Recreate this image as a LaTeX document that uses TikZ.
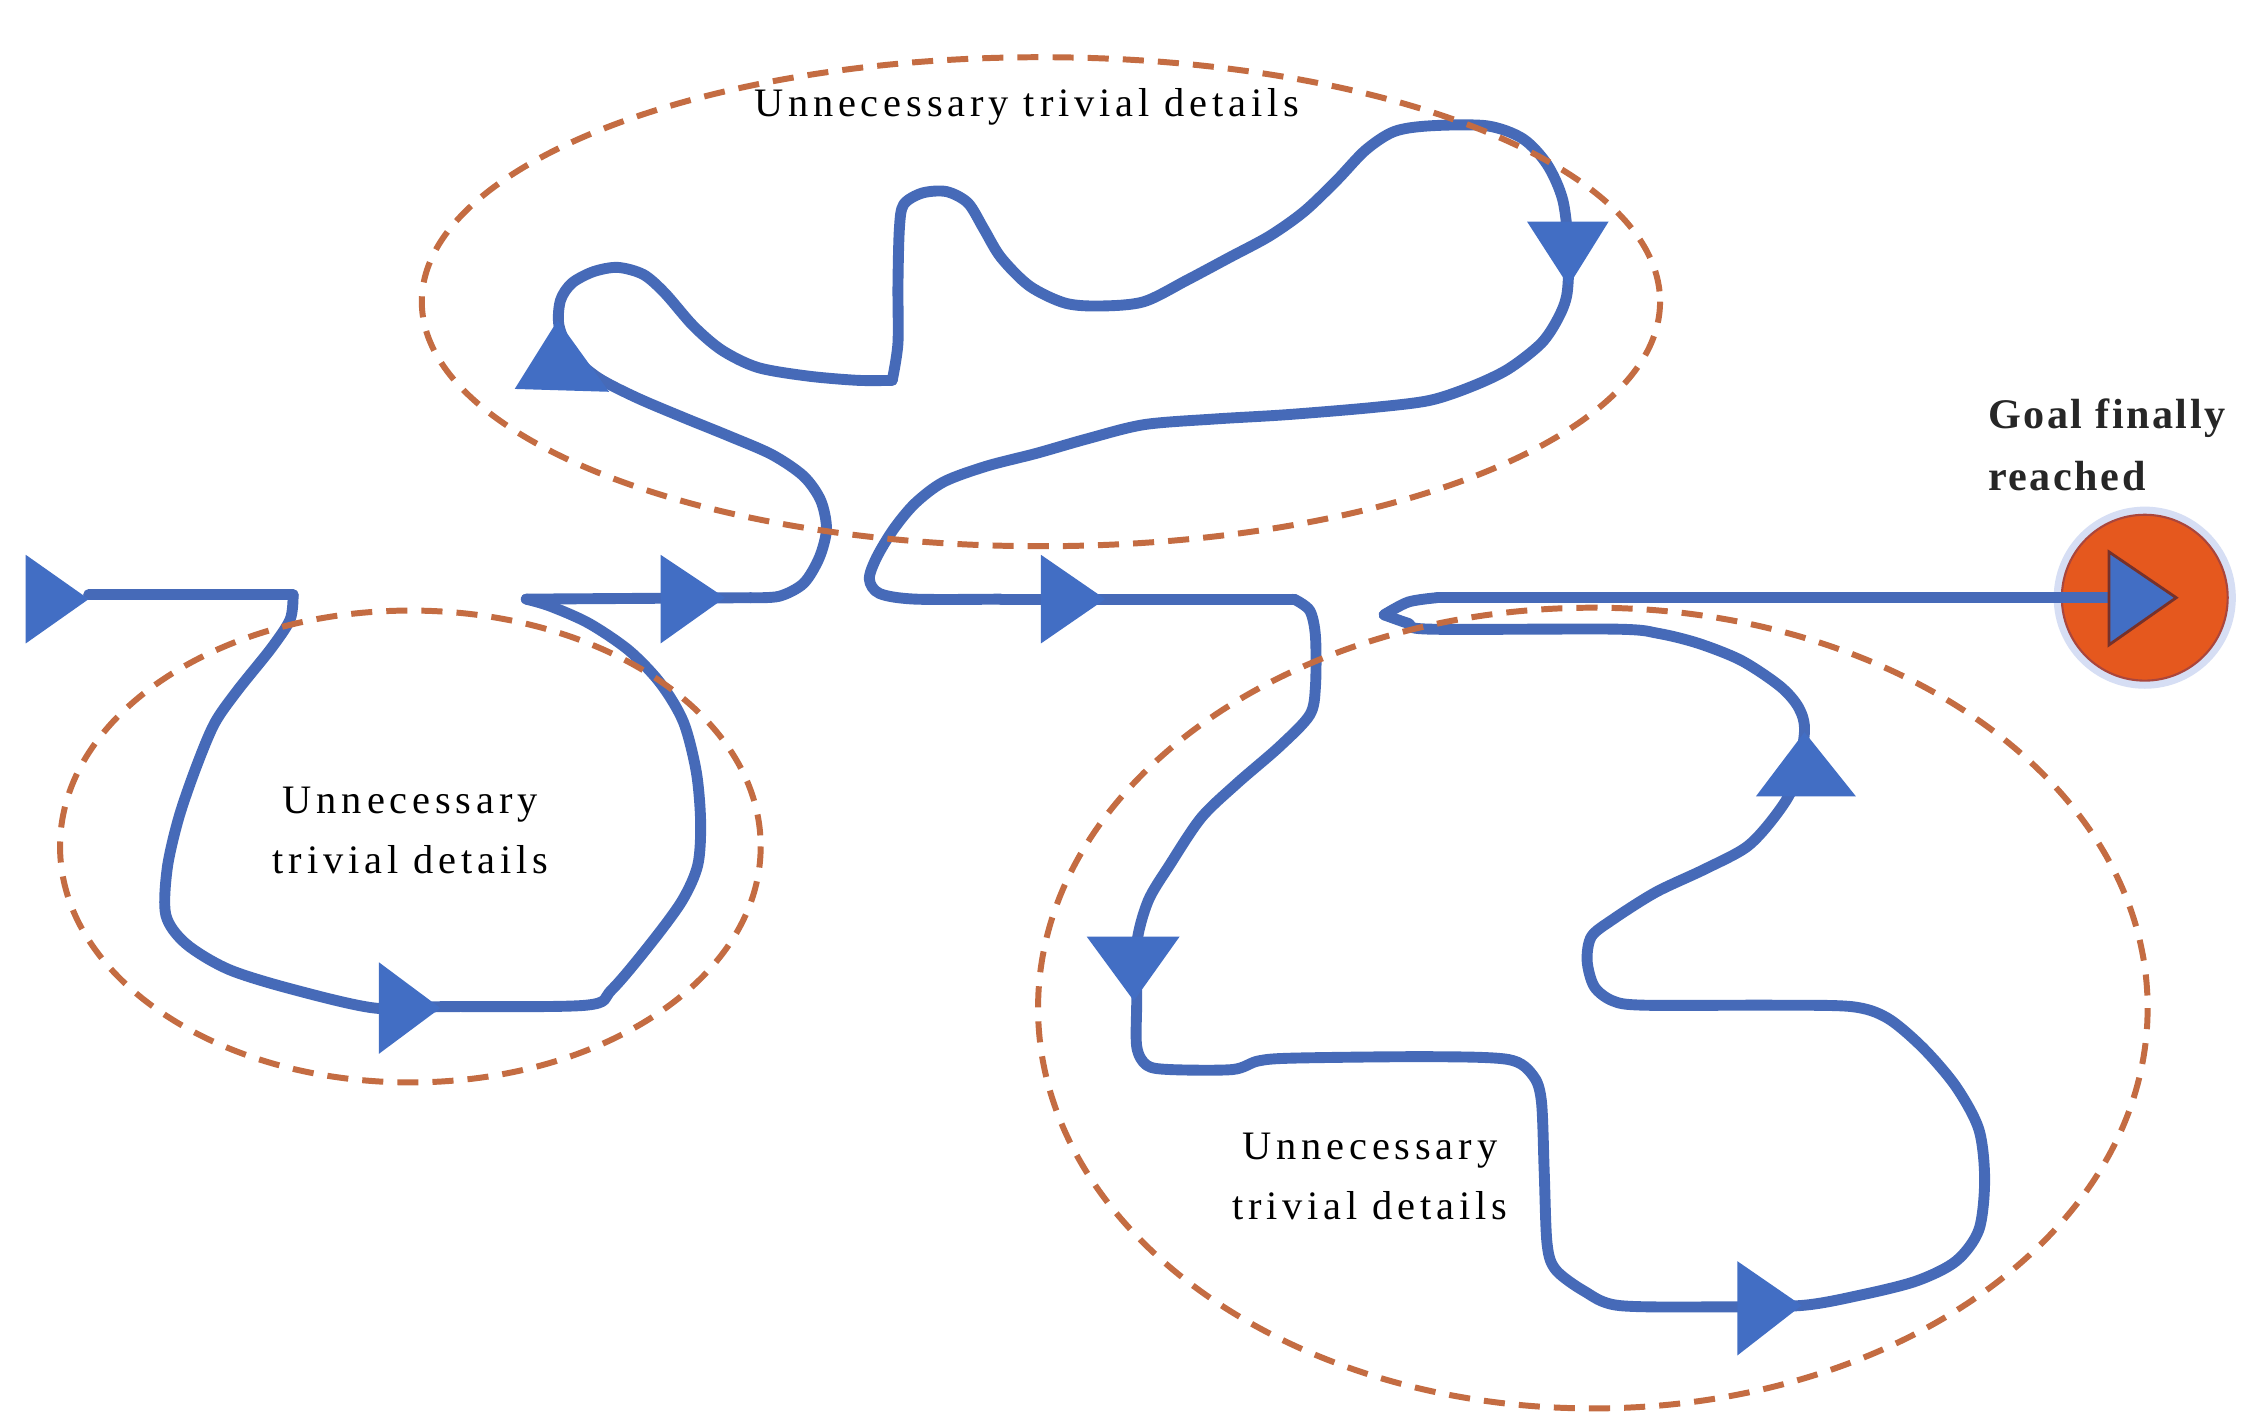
\documentclass[tikz,border=0pt]{standalone}
\usepackage{fontspec}
\setmainfont{Liberation Serif}
\definecolor{pathblue}{RGB}{70,106,184}
\definecolor{arrowblue}{RGB}{66,110,196}
\definecolor{dashorange}{RGB}{196,108,66}
\definecolor{goalorange}{RGB}{229,88,30}
\definecolor{goalrim}{RGB}{170,70,60}
\definecolor{halo}{RGB}{214,222,244}
\begin{document}
\begin{tikzpicture}[x=0.143mm,y=-0.143mm,
  trail/.style={draw=pathblue, line width=3.1pt, line cap=round, line join=round},
  zone/.style={draw=dashorange, line width=1.7pt, dash pattern=on 6pt off 4pt},
  tri/.style={fill=arrowblue},
  lbl/.style={font=\fontsize{11.5}{17}\selectfont\addfontfeature{LetterSpace=12}, align=center, text=black, inner sep=0pt},
  goallbl/.style={font=\fontsize{12}{17.5}\selectfont\bfseries\addfontfeature{LetterSpace=6}, align=left, text=black!85, inner sep=0pt}]
\useasboundingbox (0,0) rectangle (1568,989);
\fill[white] (0,0) rectangle (1568,989);

% --- blue trail ---
\draw[trail] (62,416) -- (205,416);
\draw[trail] plot[smooth,tension=0.5] coordinates {(205,416) (203,433) (190,453) (166,483) (150,506) (137,537) (125,572) (117,607) (116,640) (130,660) (160,678) (205,692) (262,705) (310,704) (410,703) (428,692) (455,660) (477,630) (488,605) (490,575) (487,540) (478,505) (462,478) (440,455) (412,436) (385,424) (368,419)};
\draw[trail] (368,419) -- (525,418);
\draw[trail] plot[smooth,tension=0.5] coordinates {(525,418) (545,417) (562,408) (573,390) (578,370) (574,350) (562,333) (540,318) (510,305) (478,292) (445,278) (418,264) (400,248) (391,228) (392,210) (400,198) (415,190) (432,187) (450,192) (465,205) (485,228) (505,245) (530,257) (565,263) (600,266) (624,266)};
\draw[trail] plot[smooth,tension=0.5] coordinates {(624,266) (628,240) (628,200) (629,160) (632,143) (645,135) (662,134) (677,142) (688,160) (700,180) (720,200) (745,212) (770,214) (800,211) (830,196) (860,180) (888,165) (912,148) (935,126) (955,105) (975,92) (1000,88) (1040,88) (1065,97) (1082,115) (1093,140) (1097,175) (1096,205) (1090,222) (1078,240) (1055,258) (1030,270) (1000,280) (960,285) (900,290) (850,293) (800,297) (760,307) (725,317) (690,326) (660,337) (640,352) (625,370) (613,390) (608,405) (615,415) (640,419) (700,419)};
\draw[trail] (700,419) -- (905,419);
\draw[trail] plot[smooth,tension=0.5] coordinates {(905,419) (916,427) (920,445) (920,480) (916,500) (895,522) (865,548) (840,572) (818,605) (803,630) (795,660) (795,700) (795,732) (802,745) (818,748) (862,748) (880,742) (905,740) (1000,739) (1055,741) (1072,752) (1078,770) (1080,820) (1082,870) (1088,888) (1108,903) (1132,913) (1200,914) (1260,913) (1300,906) (1340,896) (1368,882) (1384,860) (1388,825) (1384,790) (1368,760) (1345,733) (1320,712) (1295,704) (1240,703) (1150,703) (1128,700) (1115,690) (1110,672) (1113,655) (1128,643) (1158,624) (1192,608) (1222,592) (1242,570) (1255,548) (1262,512) (1258,495) (1245,480) (1218,462) (1188,450) (1160,443) (1130,440) (1000,440) (985,436) (968,430)};
\draw[trail] plot[smooth,tension=0.5] coordinates {(968,430) (985,421) (1005,418)};

% --- goal ---
\draw[halo, line width=3pt] (1500,418) circle (60);
\fill[goalorange] (1500,418) circle (58);
\draw[goalrim, line width=0.6pt] (1500,418) circle (58);
\draw[trail] (1005,418) -- (1478,418);

% --- dashed zones ---
\draw[zone] (728,211) ellipse [x radius=433, y radius=171];
\draw[zone] (287,592) ellipse [x radius=245, y radius=165];
\draw[zone] (1114,705) ellipse [x radius=388, y radius=280];

% --- arrowheads ---
\fill[tri] (18,388) -- (18,450) -- (62,419) -- cycle;
\fill[tri] (265,673) -- (265,737) -- (308,705) -- cycle;
\fill[tri] (462,388) -- (462,450) -- (507,418) -- cycle;
\fill[tri] (360,272) -- (426,274) -- (390,224) -- cycle;
\fill[tri] (1068,155) -- (1125,155) -- (1097,200) -- cycle;
\fill[tri] (728,388) -- (728,450) -- (773,419) -- cycle;
\fill[tri] (760,655) -- (825,655) -- (793,700) -- cycle;
\fill[tri] (1215,882) -- (1215,948) -- (1260,913) -- cycle;
\fill[tri] (1228,557) -- (1298,557) -- (1262,512) -- cycle;
\filldraw[fill=arrowblue, draw=goalrim!70!black, line width=0.8pt] (1475,386) -- (1475,451) -- (1522,418) -- cycle;

% --- labels ---
\node[lbl] (topnote) at (718,75) {Unnecessary trivial details};
\node[lbl] (leftnote) at (287,581) {Unnecessary\\trivial details};
\node[lbl] (rightnote) at (958,823) {Unnecessary\\trivial details};
\node[goallbl, anchor=west] (goalnote) at (1390,311) {Goal finally\\reached};
\end{tikzpicture}
\end{document}
